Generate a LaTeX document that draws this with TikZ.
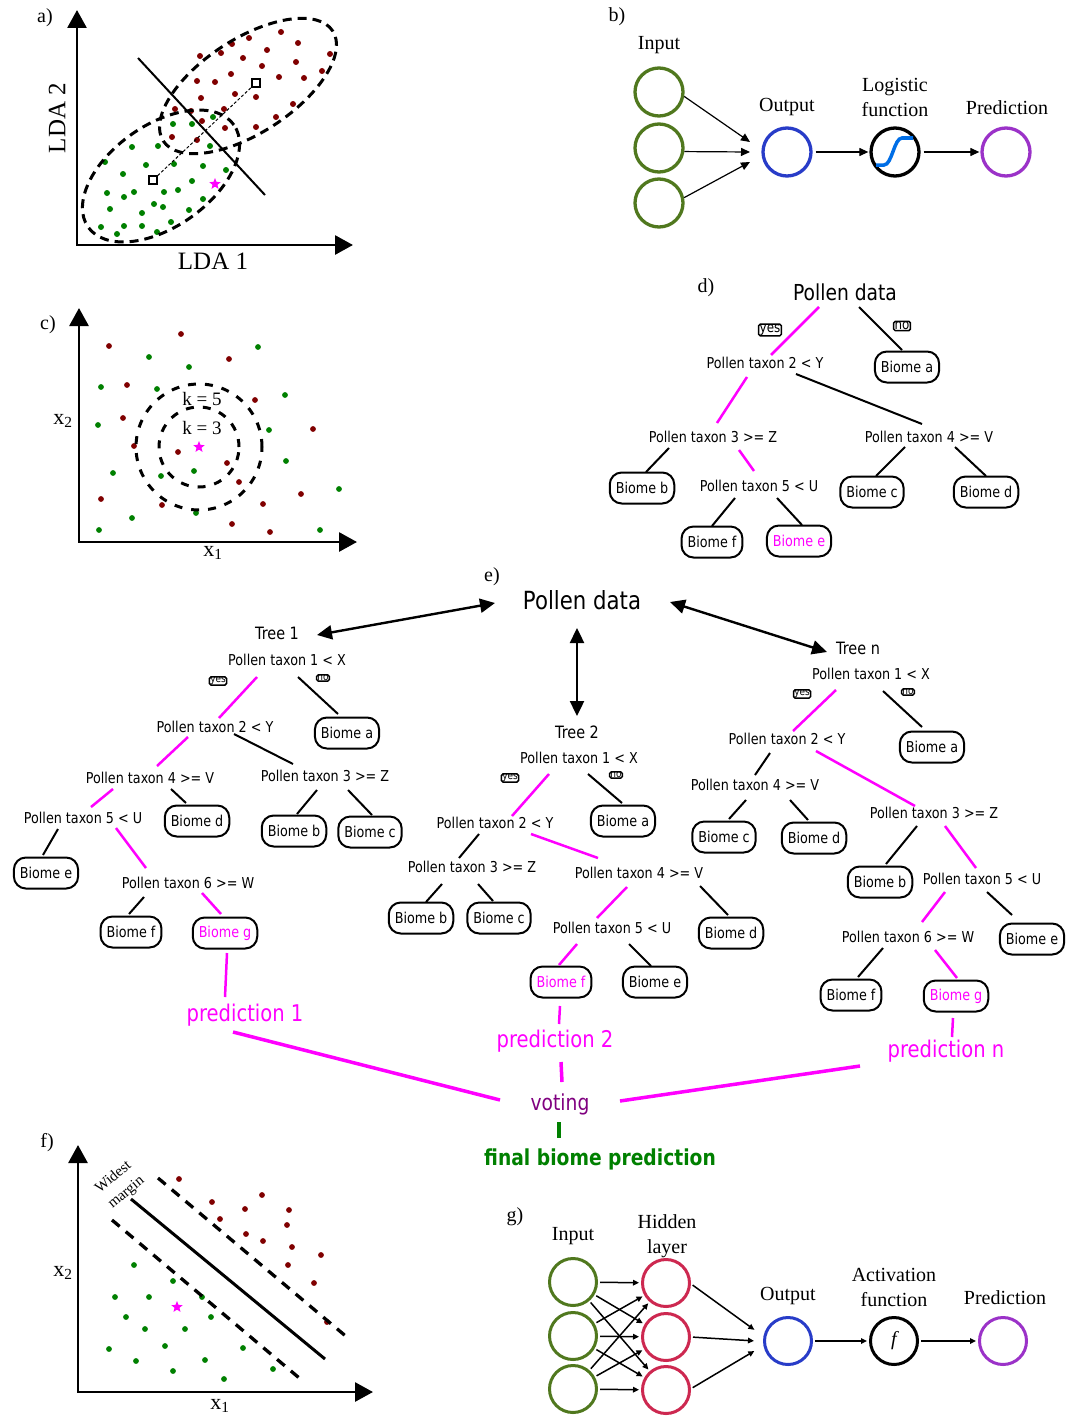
\documentclass[tikz,border=0pt]{standalone}
\usepackage{fontspec}
\setmainfont{Liberation Serif}
\newfontfamily\dvs[FakeStretch=0.85]{DejaVu Sans}
\usetikzlibrary{arrows.meta,shapes.geometric}
\newcommand\myfs[2]{\fontsize{#1}{#2}\selectfont}
\definecolor{dred}{RGB}{128,0,0}
\definecolor{dgreen}{RGB}{0,128,0}
\definecolor{mag}{RGB}{255,0,255}
\definecolor{nngreen}{RGB}{80,120,30}
\definecolor{nnred}{RGB}{205,40,80}
\definecolor{nnblue}{RGB}{40,60,200}
\definecolor{nnpurple}{RGB}{155,50,200}
\definecolor{sigblue}{RGB}{0,110,230}
\definecolor{vpurple}{RGB}{128,0,128}
\begin{document}
\begin{tikzpicture}[x=1pt,y=-1pt,
  serif/.style={font=\myfs{20}{25}, align=center},
  axis/.style={line width=2.8pt, line join=miter, {Triangle[length=18pt,width=19pt]}-{Triangle[length=18pt,width=19pt]}},
  tl/.style={font=\dvs\myfs{15}{18}, inner sep=0pt},
  bio/.style={draw, line width=2pt, rounded corners=12pt, minimum height=31pt, inner xsep=6pt, inner ysep=0pt, font=\dvs\myfs{15}{18}},
  mbio/.style={bio, text=mag},
  yn/.style={draw, line width=1.5pt, rounded corners=1.5pt, inner xsep=0.8pt, inner ysep=0pt, font=\dvs\myfs{10.5}{10.5}},
  ynd/.style={yn, inner xsep=1pt, inner ysep=0.5pt, font=\dvs\myfs{14}{14}},
  te/.style={line width=2pt},
  me/.style={line width=2.5pt, mag},
  pe/.style={line width=3.5pt, mag},
  bigarr/.style={line width=2.4pt, {Triangle[length=15pt,width=14pt]}-{Triangle[length=15pt,width=14pt]}},
  nncirc/.style={circle, line width=3.3pt, minimum size=48pt, inner sep=0pt},
  gcirc/.style={circle, line width=3pt, minimum size=47pt, inner sep=0pt},
  nnarr/.style={line width=1.2pt, -{Triangle[length=9pt,width=8pt]}},
  gar/.style={line width=1.5pt, -{Triangle[length=6pt,width=5.5pt]}, shorten <=2pt, shorten >=2pt},
  mystar/.style={star, star points=5, star point ratio=2.3, fill=mag, inner sep=0pt, minimum size=12pt},
  dsh/.style={line width=3pt, dash pattern=on 9pt off 6pt}
]
\useasboundingbox (0,0) rectangle (1080,1418);
\fill[white] (0,0) rectangle (1080,1418);

% ---------------- a)
\node[serif] (la) at (45,18) {a)};
\draw[axis] (77,10) -- (77,245) -- (353,245);
\node[font=\myfs{25}{30}, rotate=90] (lda2) at (57,118) {LDA 2};
\node[font=\myfs{25}{30}] (lda1) at (213,261) {LDA 1};
\foreach \p in {(281,32),(249,38),(232,44),(298,43),(200,56),(221,53),(243,58),(267,50),(330,54),(296,62),(262,66),(322,71),(231,74),(279,77),(304,78),(197,81),(215,82),(235,94),(256,97),(201,98),(293,104),(175,109),(191,111),(224,109),(276,117),(202,121),(225,128),(256,127),(172,137),(197,140)}
  \fill[dred] \p circle (3pt);
\foreach \p in {(213,117),(173,124),(192,124),(132,147),(158,146),(210,146),(105,162),(146,165),(174,164),(203,166),(226,170),(123,174),(192,181),(134,192),(164,192),(178,190),(107,193),(124,197),(154,204),(163,207),(203,199),(189,210),(110,209),(142,213),(171,222),(101,227),(124,226),(142,226),(157,232),(117,234)}
  \fill[dgreen] \p circle (3pt);
\draw[dsh, rotate around={35:(161,176)}] (161,176) ellipse [x radius=89pt, y radius=51pt];
\draw[dsh, rotate around={33:(248,86)}] (248,86) ellipse [x radius=101pt, y radius=47pt];
\draw[line width=2pt] (138,58) -- (265,195);
\node[draw, fill=white, minimum size=8pt, inner sep=0pt, line width=1.2pt] (sq1) at (153,180) {};
\node[draw, fill=white, minimum size=8pt, inner sep=0pt, line width=1.2pt] (sq2) at (256,83) {};
\draw[line width=1pt, dash pattern=on 3pt off 2pt] (sq1) -- (sq2);
\node[mystar] (sta) at (215,184) {};

% ---------------- b)
\node[serif] (lb) at (617,17) {b)};
\node[serif] (binput) at (659,45) {Input};
\node[nncirc, draw=nngreen] (bi1) at (659,92) {};
\node[nncirc, draw=nngreen] (bi2) at (659,148) {};
\node[nncirc, draw=nngreen] (bi3) at (659,203) {};
\node[nncirc, draw=nnblue] (bo) at (787,152) {};
\node[nncirc, draw=black] (bl) at (895,152) {};
\node[nncirc, draw=nnpurple] (bp) at (1006,152) {};
\node[serif] (bout) at (787,107) {Output};
\node[serif] (blog) at (895,97) {Logistic\\function};
\node[serif] (bpred) at (1007,108) {Prediction};
\coordinate (bc1) at (750,142);
\coordinate (bc2) at (750,152);
\coordinate (bc3) at (750,162);
\draw[nnarr] (bi1.-10) -- (bc1);
\draw[nnarr] (bi2.-8) -- (bc2);
\draw[nnarr] (bi3.12) -- (bc3);
\draw[nnarr, shorten <=3pt, shorten >=1pt] (bo) -- (bl);
\draw[nnarr, shorten <=3pt, shorten >=1pt] (bl) -- (bp);
\draw[sigblue, line width=3.5pt] (876,165) -- (884,165) .. controls (892,165) and (894,138) .. (902,138) -- (913,138);

% ---------------- c)
\node[serif] (lc) at (48,325) {c)};
\draw[axis] (79,308) -- (79,542) -- (357,542);
\node[font=\myfs{22}{26}] (cx2) at (63,421) {x\textsubscript{2}};
\node[font=\myfs{22}{26}] (cx1) at (213,553) {x\textsubscript{1}};
\foreach \p in {(181,334),(109,346),(229,359),(127,385),(255,400),(123,418),(313,429),(134,446),(178,452),(227,463),(239,482),(301,494),(101,499),(162,505),(263,504),(232,524),(270,532)}
  \fill[dred] \p circle (2.9pt);
\foreach \p in {(258,347),(149,357),(189,367),(101,387),(157,389),(285,395),(98,425),(269,430),(286,461),(194,471),(113,473),(161,476),(339,489),(132,518),(196,513),(99,530),(320,530)}
  \fill[dgreen] \p circle (2.9pt);
\draw[line width=3pt, dash pattern=on 8pt off 9pt] (199,447) circle (40pt);
\draw[line width=3pt, dash pattern=on 8pt off 9pt] (199,447) circle (63pt);
\node[font=\myfs{19}{22}] (k5) at (202,399) {k = 5};
\node[font=\myfs{19}{22}] (k3) at (202,428) {k = 3};
\node[mystar] (stc) at (199,447) {};

% ---------------- d)
\node[serif] (ld) at (706,288) {d)};
\node[font=\dvs\myfs{22}{26}] (D0) at (845,292) {Pollen data};
\node[ynd] (Dyes) at (770,330) {yes};
\node[ynd] (Dno) at (902,326) {no};
\node[tl] (D2) at (765,363) {Pollen taxon 2 < Y};
\node[bio] (Da) at (907,367) {Biome a};
\node[tl] (D3) at (713,437) {Pollen taxon 3 >= Z};
\node[tl] (D4) at (929,437) {Pollen taxon 4 >= V};
\node[bio] (Db) at (642,488) {Biome b};
\node[tl] (D5) at (759,486) {Pollen taxon 5 < U};
\node[bio] (Dc) at (872,492) {Biome c};
\node[bio] (Dd) at (986,492) {Biome d};
\node[bio] (Df) at (712,542) {Biome f};
\node[mbio] (De) at (799,541) {Biome e};
\draw[me] (819,307) -- (771,355);
\draw[te] (859,307) -- (902,350);
\draw[me] (747,377) -- (717,423);
\draw[te] (796,374) -- (922,424);
\draw[te] (669,448) -- (646,472);
\draw[me] (739,450) -- (754,471);
\draw[te] (905,447) -- (876,476);
\draw[te] (955,447) -- (986,476);
\draw[te] (735,498) -- (712,526);
\draw[te] (777,498) -- (802,525);

% ---------------- e) header
\node[serif] (le) at (492,577) {e)};
\node[font=\dvs\myfs{25}{30}] (E0) at (582,600) {Pollen data};
\draw[bigarr] (317,635) -- (495,603);
\draw[bigarr] (577,628) -- (577,716);
\draw[bigarr] (670,602) -- (827,652);

% Tree 1
\node[font=\dvs\myfs{17}{20}] (A0) at (277,633) {Tree 1};
\node[tl] (A1) at (287,660) {Pollen taxon 1 < X};
\node[yn] (Ayes) at (218,681) {yes};
\node[yn] (Ano) at (323,678) {no};
\node[bio] (Aa) at (347,733) {Biome a};
\node[tl] (A2) at (215,727) {Pollen taxon 2 < Y};
\node[tl] (A4) at (150,778) {Pollen taxon 4 >= V};
\node[tl] (A3) at (325,776) {Pollen taxon 3 >= Z};
\node[bio] (Ad) at (197,821) {Biome d};
\node[bio] (Ab) at (294,831) {Biome b};
\node[bio] (Ac) at (370,832) {Biome c};
\node[tl] (A5) at (83,818) {Pollen taxon 5 < U};
\node[bio] (Ae) at (46,873) {Biome e};
\node[tl] (A6) at (188,883) {Pollen taxon 6 >= W};
\node[bio] (Af) at (131,932) {Biome f};
\node[mbio] (Ag) at (225,933) {Biome g};
\node[font=\dvs\myfs{23}{26}, text=mag] (Ap) at (245,1015) {prediction 1};
\draw[me] (257,677) -- (219,718);
\draw[te] (298,677) -- (338,714);
\draw[me] (188,737) -- (157,766);
\draw[te] (234,734) -- (293,764);
\draw[me] (113,789) -- (91,807);
\draw[te] (171,789) -- (186,803);
\draw[te] (317,790) -- (297,814);
\draw[te] (348,790) -- (372,815);
\draw[te] (58,829) -- (43,855);
\draw[me] (116,828) -- (146,868);
\draw[te] (144,897) -- (129,914);
\draw[me] (202,893) -- (221,914);
\draw[me] (227,953) -- (225,997);

% Tree 2
\node[font=\dvs\myfs{17}{20}] (B0) at (577,732) {Tree 2};
\node[tl] (B1) at (579,758) {Pollen taxon 1 < X};
\node[yn] (Byes) at (510,778) {yes};
\node[yn] (Bno) at (616,775) {no};
\node[bio] (Ba) at (623,821) {Biome a};
\node[tl] (B2) at (495,823) {Pollen taxon 2 < Y};
\node[tl] (B3) at (472,867) {Pollen taxon 3 >= Z};
\node[tl] (B4) at (639,873) {Pollen taxon 4 >= V};
\node[bio] (Bb) at (421,918) {Biome b};
\node[bio] (Bc) at (499,918) {Biome c};
\node[tl] (B5) at (612,928) {Pollen taxon 5 < U};
\node[bio] (Bd) at (731,933) {Biome d};
\node[mbio] (Bf) at (561,982) {Biome f};
\node[bio] (Be) at (655,982) {Biome e};
\node[font=\dvs\myfs{23}{26}, text=mag] (Bp) at (555,1041) {prediction 2};
\draw[me] (549,774) -- (512,816);
\draw[te] (588,774) -- (622,803);
\draw[te] (479,834) -- (459,858);
\draw[me] (531,834) -- (598,858);
\draw[te] (442,884) -- (426,902);
\draw[te] (478,884) -- (493,901);
\draw[me] (627,887) -- (597,918);
\draw[te] (700,886) -- (728,915);
\draw[me] (577,944) -- (559,965);
\draw[te] (629,944) -- (651,966);
\draw[me] (560,1006) -- (559,1024);

% Tree n
\node[font=\dvs\myfs{17}{20}] (N0) at (858,648) {Tree n};
\node[tl] (N1) at (871,674) {Pollen taxon 1 < X};
\node[yn] (Nyes) at (802,694) {yes};
\node[yn] (Nno) at (908,692) {no};
\node[bio] (Na) at (932,747) {Biome a};
\node[tl] (N2) at (787,739) {Pollen taxon 2 < Y};
\node[tl] (N4) at (755,785) {Pollen taxon 4 >= V};
\node[bio] (Nc) at (724,837) {Biome c};
\node[bio] (Nd) at (814,838) {Biome d};
\node[tl] (N3) at (934,813) {Pollen taxon 3 >= Z};
\node[bio] (Nb) at (880,882) {Biome b};
\node[tl] (N5) at (982,879) {Pollen taxon 5 < U};
\node[bio] (Ne) at (1032,939) {Biome e};
\node[tl] (N6) at (908,937) {Pollen taxon 6 >= W};
\node[bio] (Nf) at (851,995) {Biome f};
\node[mbio] (Ng) at (956,996) {Biome g};
\node[font=\dvs\myfs{23}{26}, text=mag] (Np) at (946,1051) {prediction n};
\draw[me] (836,690) -- (793,731);
\draw[te] (883,691) -- (922,727);
\draw[te] (770,753) -- (755,775);
\draw[me] (816,751) -- (915,806);
\draw[te] (746,800) -- (729,819);
\draw[te] (790,800) -- (808,820);
\draw[te] (917,826) -- (886,864);
\draw[me] (945,826) -- (976,868);
\draw[me] (945,892) -- (922,922);
\draw[te] (987,892) -- (1012,915);
\draw[te] (883,948) -- (858,977);
\draw[me] (935,950) -- (957,978);
\draw[me] (953,1018) -- (952,1037);

% voting
\node[font=\dvs\myfs{22}{26}, text=vpurple] (vote) at (560,1104) {voting};
\node[font=\dvs\bfseries\myfs{22}{26}, text=dgreen] (final) at (600,1159) {final biome prediction};
\draw[pe] (233,1032) -- (500,1100);
\draw[pe] (561,1062) -- (562,1082);
\draw[pe] (620,1101) -- (860,1066);
\draw[dgreen, line width=3.5pt] (559,1122) -- (559,1138);

% ---------------- f)
\node[serif] (lf) at (47,1143) {f)};
\draw[axis] (78,1145) -- (78,1392) -- (373,1392);
\node[font=\myfs{22}{26}] (fx2) at (63,1273) {x\textsubscript{2}};
\node[font=\myfs{22}{26}] (fx1) at (220,1406) {x\textsubscript{1}};
\foreach \p in {(179,1179),(212,1202),(262,1195),(245,1209),(289,1210),(220,1219),(287,1225),(246,1234),(263,1241),(292,1247),(321,1255),(288,1265),(314,1283),(327,1322)}
  \fill[dred] \p circle (2.9pt);
\foreach \p in {(134,1265),(173,1281),(115,1297),(149,1297),(202,1297),(126,1317),(211,1317),(145,1329),(185,1329),(109,1349),(165,1346),(243,1348),(136,1361),(205,1360),(173,1371),(224,1379),(273,1369)}
  \fill[dgreen] \p circle (2.9pt);
\draw[line width=3pt] (131,1199) -- (325,1359);
\draw[line width=3.3pt, dash pattern=on 10pt off 8pt] (158,1178) -- (348,1338);
\draw[line width=3.3pt, dash pattern=on 10pt off 8pt] (112,1220) -- (304,1382);
\node[font=\myfs{15}{20}, rotate=40, align=center] (wm) at (120,1185) {Widest\\margin};
\node[mystar] (stf) at (177,1307) {};

% ---------------- g)
\node[serif] (lg) at (515,1217) {g)};
\node[serif] (ginput) at (573,1236) {Input};
\node[serif] (ghid) at (667,1236) {Hidden\\layer};
\node[serif] (gout) at (788,1296) {Output};
\node[serif] (gact) at (894,1287) {Activation\\function};
\node[serif] (gpred) at (1005,1298) {Prediction};
\node[gcirc, draw=nngreen] (gi1) at (573,1282) {};
\node[gcirc, draw=nngreen] (gi2) at (573,1336) {};
\node[gcirc, draw=nngreen] (gi3) at (573,1389) {};
\node[gcirc, draw=nnred] (gh1) at (666,1283) {};
\node[gcirc, draw=nnred] (gh2) at (666,1337) {};
\node[gcirc, draw=nnred] (gh3) at (666,1390) {};
\node[gcirc, draw=nnblue] (go) at (788,1341) {};
\node[gcirc, draw=black, font=\myfs{20}{22}\itshape] (ga) at (894,1341) {f};
\node[gcirc, draw=nnpurple] (gp) at (1003,1341) {};
\foreach \a in {1,2,3} \foreach \b in {1,2,3} \draw[gar] (gi\a) -- (gh\b);
\coordinate (gc1) at (756,1331);
\coordinate (gc2) at (756,1341);
\coordinate (gc3) at (756,1350);
\draw[gar] (gh1.-2) -- (gc1);
\draw[gar] (gh2.east) -- (gc2);
\draw[gar] (gh3.3) -- (gc3);
\draw[gar] (go) -- (ga);
\draw[gar] (ga) -- (gp);
\end{tikzpicture}
\end{document}
